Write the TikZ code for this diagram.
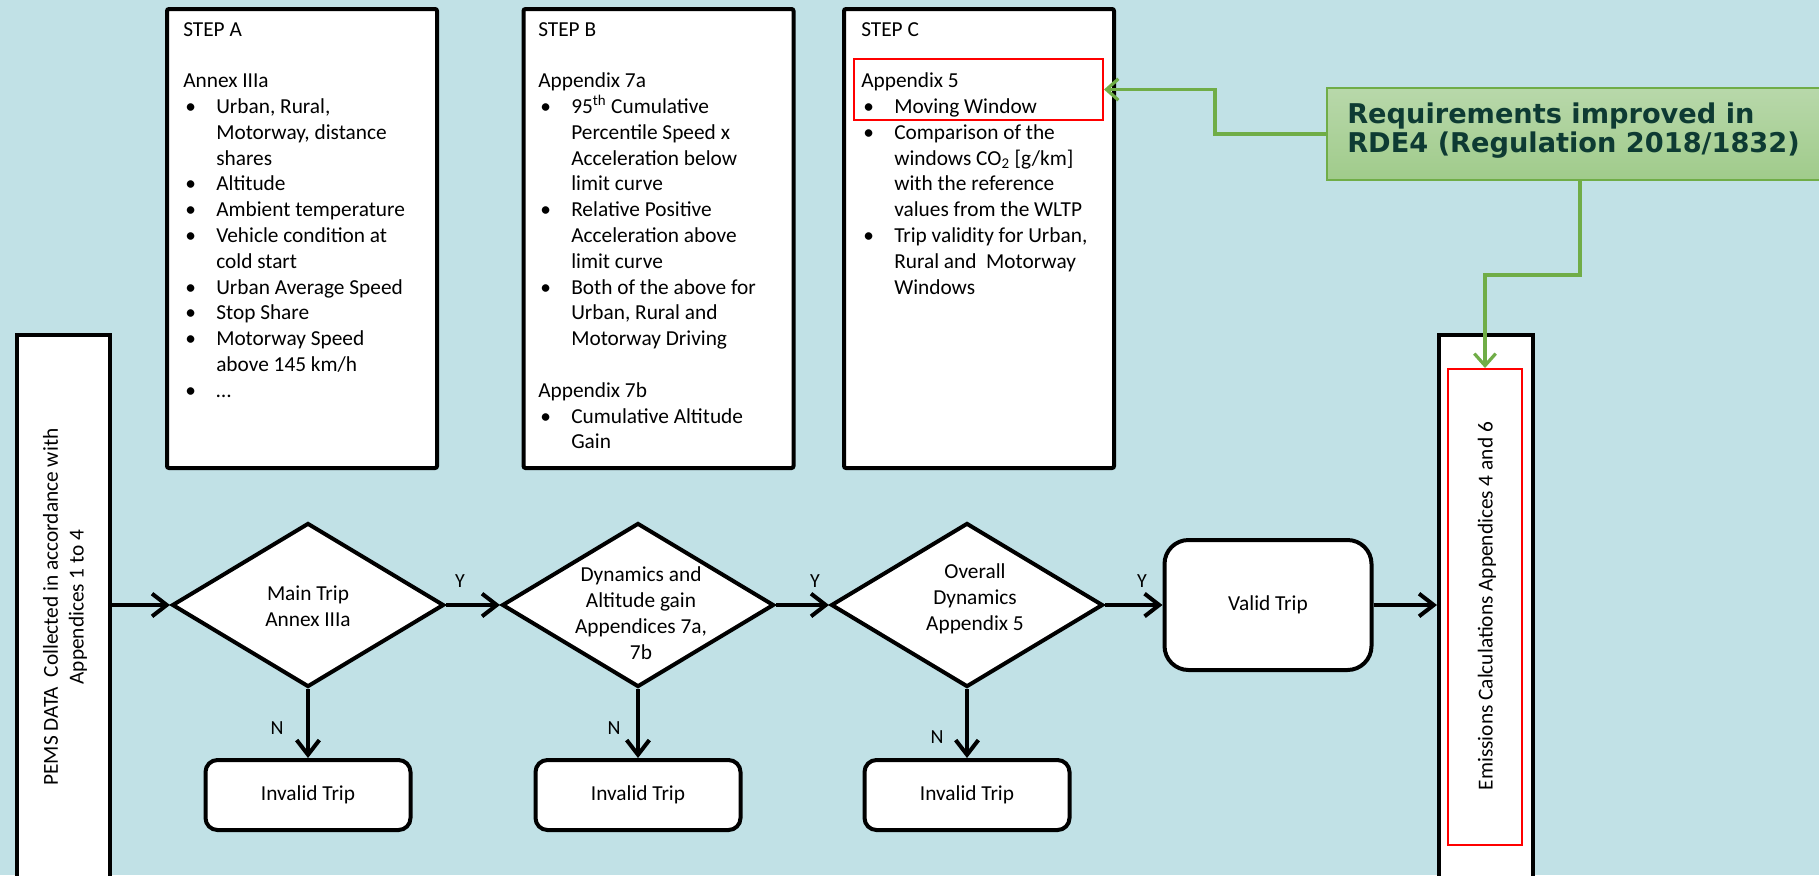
\documentclass[tikz,border=0pt]{standalone}
\usepackage{fontspec}
\setmainfont{Carlito}
\newfontfamily\greenfont{DejaVu Sans}
\usetikzlibrary{shapes.geometric,arrows.meta}
\definecolor{bgblue}{RGB}{193,225,230}
\definecolor{rgreen}{RGB}{112,173,71}
\definecolor{gtop}{RGB}{184,216,170}
\definecolor{gbot}{RGB}{160,203,139}
\definecolor{gtext}{RGB}{14,59,51}
\newcommand{\stepfont}{\fontsize{16}{19.35}\selectfont}
\newcommand{\bl}{\makebox[24.75pt][l]{\hspace{1.5pt}\textbullet}}
\newcommand{\ind}{\hspace*{24.75pt}}
\begin{document}
\begin{tikzpicture}[x=0.75pt,y=-0.75pt,font=\stepfont,
  box/.style={draw=black, line width=3pt, fill=white, inner sep=0},
  stepbox/.style={box, rounded corners=1.5pt, minimum width=202.5pt, minimum height=344.25pt},
  steptext/.style={anchor=base west, inner sep=0},
  tallbox/.style={box, minimum height=423.75pt},
  redbox/.style={draw=red, line width=1.5pt, inner sep=0},
  dia/.style={diamond, draw=black, line width=3pt, fill=white, minimum width=204pt, minimum height=123pt, inner sep=0},
  dlabel/.style={align=center, inner sep=0},
  inv/.style={box, rounded corners=9pt, minimum width=153.75pt, minimum height=52.5pt},
  yn/.style={inner sep=0, font=\fontsize{15}{17}\selectfont},
  flow/.style={draw=black, line width=3pt, -{Straight Barb[length=11pt,width=17pt]}},
  garrow/.style={draw=rgreen, line width=2.4pt, -{Straight Barb[length=9pt,width=16pt]}}
]
\useasboundingbox (0,0) rectangle (1819,875);
\clip (0,0) rectangle (1819,875);
\fill[bgblue] (0,0) rectangle (1819,875);

% Step boxes
\node[stepbox] (stepA) at (302,238.5) {};
\node[stepbox] (stepB) at (658.5,238.5) {};
\node[stepbox] (stepC) at (979,238.5) {};

\node[steptext] (txtA) at (183,36) {\parbox[t]{240pt}{\raggedright
STEP A\\[19.35pt]
Annex IIIa\\
\bl Urban, Rural,\\
\ind Motorway, distance\\
\ind shares\\
\bl Altitude\\
\bl Ambient temperature\\
\bl Vehicle condition at\\
\ind cold start\\
\bl Urban Average Speed\\
\bl Stop Share\\
\bl Motorway Speed\\
\ind above 145 km/h\\
\bl …}};

\node[steptext] (txtB) at (538,36) {\parbox[t]{240pt}{\raggedright
STEP B\\[19.35pt]
Appendix 7a\\
\bl 95\textsuperscript{th} Cumulative\\
\ind Percentile Speed x\\
\ind Acceleration below\\
\ind limit curve\\
\bl Relative Positive\\
\ind Acceleration above\\
\ind limit curve\\
\bl Both of the above for\\
\ind Urban, Rural and\\
\ind Motorway Driving\\[19.35pt]
Appendix 7b\\
\bl Cumulative Altitude\\
\ind Gain}};

\node[steptext] (txtC) at (861,36) {\parbox[t]{240pt}{\raggedright
STEP C\\[19.35pt]
Appendix 5\\
\bl Moving Window\\
\bl Comparison of the\\
\ind windows CO\textsubscript{2} [g/km]\\
\ind with the reference\\
\ind values from the WLTP\\
\bl Trip validity for Urban,\\
\ind Rural and\ \ Motorway\\
\ind Windows}};

\node[redbox, minimum width=186.75pt, minimum height=45.75pt] (redC) at (978.5,89.5) {};

% Green callout
\node[draw=rgreen, line width=1.5pt, top color=gtop, bottom color=gbot, minimum width=379.5pt, minimum height=69pt, inner sep=0] (green) at (1580,134) {};
\node[anchor=base west, inner sep=0, text=gtext] (gtxt) at (1347,123) {\parbox[t]{400pt}{\greenfont\bfseries\fontsize{20.4}{21.75}\selectfont Requirements improved in\\RDE4 (Regulation 2018/1832)}};

% Tall boxes
\node[tallbox, minimum width=69.75pt] (pems) at (63.5,617.5) {};
\node[rotate=90, align=center, inner sep=0] (pemsT) at (65,607) {PEMS DATA\ \ Collected in accordance with\\Appendices 1 to 4};
\node[tallbox, minimum width=70.5pt] (emis) at (1486,617.5) {};
\node[redbox, minimum width=55.5pt, minimum height=357pt] (redE) at (1485,607) {};
\node[rotate=90, inner sep=0] (emisT) at (1487,606) {Emissions Calculations Appendices 4 and 6};

% Diamonds
\node[dia] (d1) at (308,605) {};
\node[dia] (d2) at (638,605) {};
\node[dia] (d3) at (967,605) {};
\node[dlabel] (l1) at (308,606) {Main Trip\\Annex IIIa};
\node[dlabel] (l2) at (641,613) {Dynamics and\\Altitude gain\\Appendices 7a,\\7b};
\node[dlabel] (l3) at (975,599) {Overall\\Dynamics\\Appendix 5};

% Result boxes
\node[inv] (inv1) at (308,795) {Invalid Trip};
\node[inv] (inv2) at (638,795) {Invalid Trip};
\node[inv] (inv3) at (967,795) {Invalid Trip};
\node[box, rounded corners=18pt, minimum width=155.25pt, minimum height=97.5pt] (valid) at (1268,605) {Valid Trip};

% Y / N labels
\node[yn] (y1) at (460,581) {Y};
\node[yn] (y2) at (815,581) {Y};
\node[yn] (y3) at (1142,581) {Y};
\node[yn] (n1) at (277,728) {N};
\node[yn] (n2) at (614,728) {N};
\node[yn] (n3) at (937,737) {N};

% Flow connectors
\draw[flow] (pems.east |- d1.west) -- (d1.west);
\draw[flow] (d1.east) -- (d2.west);
\draw[flow] (d2.east) -- (d3.west);
\draw[flow] (d3.east) -- (valid.west);
\draw[flow] (valid.east) -- (valid.east -| emis.west);
\draw[flow] (d1.south) -- (inv1.north);
\draw[flow] (d2.south) -- (inv2.north);
\draw[flow] (d3.south) -- (inv3.north);

% Green connectors
\draw[garrow] (green.west) -- ++(-111,0) |- (redC.east);
\draw[garrow] (green.south) -- ++(0,94) -| (redE.north);
\end{tikzpicture}
\end{document}
